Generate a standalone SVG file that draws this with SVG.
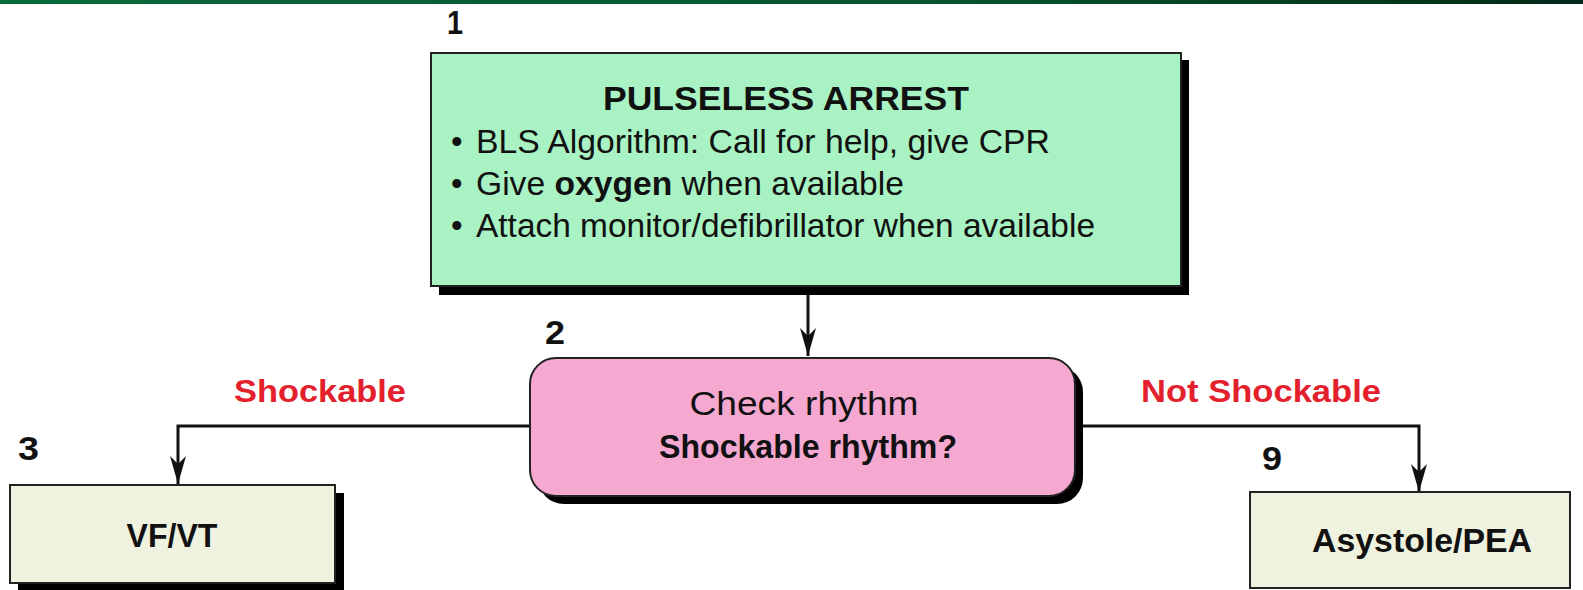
<svg xmlns="http://www.w3.org/2000/svg" width="1583" height="590" viewBox="0 0 1583 590">
<defs>
<linearGradient id="bar" x1="0" x2="1" y1="0" y2="0">
<stop offset="0" stop-color="#0a6a3a"/>
<stop offset="0.6" stop-color="#06542e"/>
<stop offset="1" stop-color="#022a18"/>
</linearGradient>
<marker id="ah2" viewBox="0 0 28 16" refX="28" refY="8" markerWidth="28" markerHeight="16" markerUnits="userSpaceOnUse" orient="auto">
<path d="M0,0 L28,8 L0,16 L8,8 Z" fill="#111"/>
</marker>
</defs>
<style>
text{font-family:"Liberation Sans",Arial,sans-serif;fill:#111}
.num{font-weight:bold;font-size:34px}
.b{font-weight:bold}
.t{font-size:33px}
.red{fill:#e3202b;font-weight:bold;font-size:31px}
.shadow{fill:#000}
.conn{fill:none;stroke:#111;stroke-width:3}
</style>
<rect x="0" y="0" width="1583" height="4" fill="url(#bar)"/>

<g id="connectors">
<path class="conn" d="M808,286 L808,356" marker-end="url(#ah2)"/>
<path class="conn" d="M531,426 L178,426 L178,484" marker-end="url(#ah2)"/>
<path class="conn" d="M1074,426 L1419,426 L1419,492" marker-end="url(#ah2)"/>
<path class="conn" d="M173,583 L173,590"/>
</g>

<g id="node1">
<text class="num" x="447" y="34" textLength="16" lengthAdjust="spacingAndGlyphs">1</text>
<rect class="shadow" x="439" y="60" width="750" height="235"/>
<rect x="431" y="53" width="750" height="233" fill="#a9f2c3" stroke="#222" stroke-width="2"/>
<text class="t b" x="786" y="110" text-anchor="middle" textLength="366" lengthAdjust="spacingAndGlyphs">PULSELESS ARREST</text>
<text class="t" x="451" y="153">•</text>
<text class="t" x="476" y="153" textLength="574" lengthAdjust="spacingAndGlyphs">BLS Algorithm: Call for help, give CPR</text>
<text class="t" x="451" y="195">•</text>
<text class="t" x="476" y="195" textLength="428" lengthAdjust="spacingAndGlyphs">Give <tspan class="b">oxygen</tspan> when available</text>
<text class="t" x="451" y="237">•</text>
<text class="t" x="476" y="237" textLength="619" lengthAdjust="spacingAndGlyphs">Attach monitor/defibrillator when available</text>
</g>

<g id="node2">
<text class="num" x="545" y="344" textLength="20" lengthAdjust="spacingAndGlyphs">2</text>
<rect class="shadow" x="538" y="366" width="545" height="138" rx="26"/>
<rect x="530" y="358" width="545" height="138" rx="26" fill="#f5a8d0" stroke="#222" stroke-width="2"/>
<text class="t" x="804" y="415" text-anchor="middle" textLength="229" lengthAdjust="spacingAndGlyphs">Check rhythm</text>
<text class="t b" x="808" y="458" text-anchor="middle" textLength="298" lengthAdjust="spacingAndGlyphs">Shockable rhythm?</text>
</g>

<text class="red" x="234" y="402" textLength="172" lengthAdjust="spacingAndGlyphs">Shockable</text>
<text class="red" x="1141" y="402" textLength="240" lengthAdjust="spacingAndGlyphs">Not Shockable</text>

<g id="node3">
<text class="num" x="18" y="460" textLength="21" lengthAdjust="spacingAndGlyphs">3</text>
<rect class="shadow" x="18" y="493" width="326" height="100"/>
<rect x="10" y="485" width="325" height="98" fill="#eef2de" stroke="#222" stroke-width="2"/>
<text class="t b" x="172" y="547" text-anchor="middle" textLength="91" lengthAdjust="spacingAndGlyphs">VF/VT</text>
</g>

<g id="node9">
<text class="num" x="1262" y="470" textLength="20" lengthAdjust="spacingAndGlyphs">9</text>
<rect x="1250" y="492" width="320" height="96" fill="#eef2de" stroke="#222" stroke-width="2"/>
<text class="t b" x="1422" y="552" text-anchor="middle" textLength="220" lengthAdjust="spacingAndGlyphs">Asystole/PEA</text>
</g>
</svg>
